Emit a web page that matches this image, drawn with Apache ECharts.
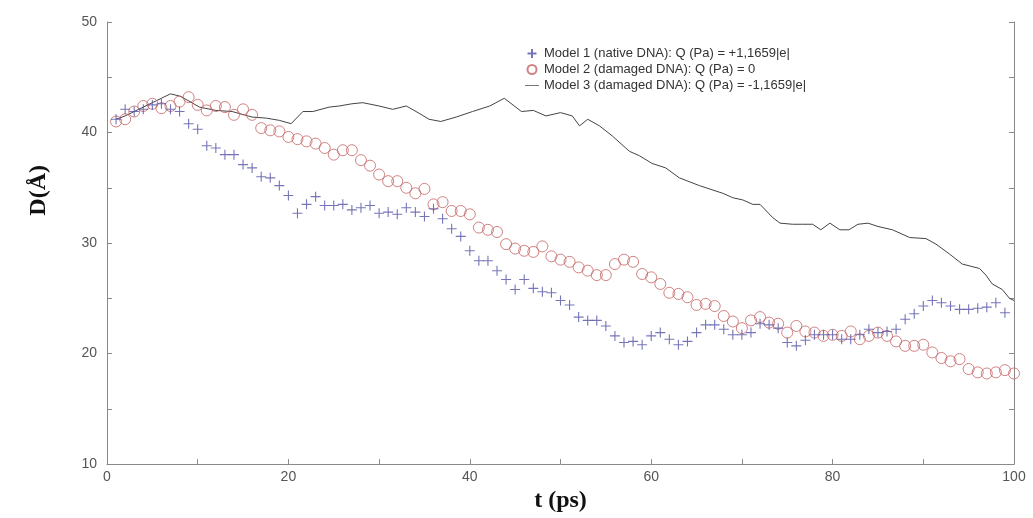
<!DOCTYPE html>
<html><head><meta charset="utf-8">
<script src="https://cdn.jsdelivr.net/npm/echarts@6/dist/echarts.min.js"></script>
<style>html,body{margin:0;padding:0;background:#fff}#c{width:1033px;height:518px}</style>
</head><body><div id="c"></div>
<script>
const xTicks = [0, 20, 40, 60, 80, 100];
const yTicks = [10, 20, 30, 40, 50];
const seriesNames = [
  'Model 1 (native DNA): Q (Pa) = +1,1659|e|',
  'Model 2 (damaged DNA): Q (Pa) = 0',
  'Model 3 (damaged DNA): Q (Pa) = -1,1659|e|'
];
const model1Time = [1,2,3,4,5,6,7,8,9,10,11,12,13,14,15,16,17,18,19,20,21,22,23,24,25,26,27,28,29,30,31,32,33,34,35,36,37,38,39,40,41,42,43,44,45,46,47,48,49,50,51,52,53,54,55,56,57,58,59,60,61,62,63,64,65,66,67,68,69,70,71,72,73,74,75,76,77,78,79,80,81,82,83,84,85,86,87,88,89,90,91,92,93,94,95,96,97,98,99];
const model1D = [41.2,42.1,41.9,42.1,42.5,42.6,42.1,41.9,40.8,40.3,38.8,38.6,38.0,38.0,37.1,36.8,36.0,35.9,35.2,34.3,32.7,33.5,34.2,33.4,33.4,33.5,33.0,33.2,33.4,32.7,32.8,32.6,33.2,32.8,32.4,33.1,32.2,31.3,30.6,29.3,28.4,28.4,27.5,26.7,25.8,26.7,25.9,25.6,25.5,24.8,24.4,23.3,23.0,23.0,22.5,21.6,21.0,21.1,20.8,21.6,21.9,21.3,20.8,21.1,21.9,22.6,22.6,22.2,21.7,21.7,21.9,22.7,22.6,22.3,21.0,20.7,21.2,21.7,21.7,21.7,21.3,21.3,21.7,22.2,21.9,22.0,22.2,23.1,23.6,24.3,24.8,24.6,24.3,24.0,24.0,24.1,24.2,24.6,23.7];
const model2Time = [1,2,3,4,5,6,7,8,9,10,11,12,13,14,15,16,17,18,19,20,21,22,23,24,25,26,27,28,29,30,31,32,33,34,35,36,37,38,39,40,41,42,43,44,45,46,47,48,49,50,51,52,53,54,55,56,57,58,59,60,61,62,63,64,65,66,67,68,69,70,71,72,73,74,75,76,77,78,79,80,81,82,83,84,85,86,87,88,89,90,91,92,93,94,95,96,97,98,99,100];
const model2D = [41.0,41.2,41.9,42.4,42.6,42.2,42.4,42.8,43.2,42.5,42.0,42.4,42.3,41.6,42.1,41.6,40.4,40.2,40.1,39.6,39.4,39.2,39.0,38.6,38.0,38.4,38.4,37.5,37.0,36.2,35.6,35.6,35.0,34.5,34.9,33.5,33.7,32.9,32.9,32.6,31.4,31.2,31.0,29.9,29.5,29.3,29.2,29.7,28.8,28.5,28.3,27.8,27.5,27.1,27.1,28.1,28.5,28.3,27.2,26.9,26.3,25.5,25.4,25.1,24.4,24.5,24.3,23.4,22.9,22.3,23.0,23.3,22.8,22.7,21.9,22.5,22.0,21.9,21.6,21.7,21.6,22.0,21.3,21.6,21.9,21.6,21.1,20.7,20.7,20.8,20.1,19.6,19.3,19.5,18.6,18.3,18.2,18.3,18.5,18.2];
const model3Time = [1,2,3,4,5,6,7,8,8.7,10.2,12,13.8,16,17.6,19,20.3,21.6,22.7,24.5,25.6,27,28.2,30,31.5,33,34.5,35.5,36.8,38.5,40.3,42.2,43.8,45.7,47,48.4,50,51.3,52.1,53,54.3,55.7,57.6,58.7,60.1,61.6,63.1,65.3,67.9,69,70.1,71.2,72,73.4,74.2,75.6,76.7,77.8,78.7,79.7,80.8,81.8,82.8,83.9,85,86.6,88.5,90.3,91.4,92.9,94.3,96.2,96.9,97.6,98.7,99.5,100];
const model3D = [41.2,41.5,41.9,42.3,42.7,43.1,43.5,43.3,43.0,42.3,42.0,41.9,41.4,41.3,41.1,40.8,41.9,41.9,42.3,42.4,42.6,42.7,42.4,42.1,42.4,41.7,41.2,41.0,41.4,41.9,42.4,43.1,41.9,42.0,41.5,41.8,41.5,40.6,41.2,40.6,39.7,38.3,37.9,37.2,36.8,35.9,35.2,34.5,34.1,33.9,33.5,33.5,32.3,31.8,31.7,31.7,31.7,31.2,31.8,31.2,31.2,31.7,31.8,31.5,31.2,30.5,30.4,29.9,29.0,28.1,27.7,27.1,26.3,25.8,25.0,24.8];

const pair = (t, d) => t.map((v, i) => [v, d[i]]);
const plusPath = 'path://M0,5L10,5M5,0L5,10';
const dashPath = 'path://M0,4L14,4L14,5L0,5Z';
const axisGray = '#8a8a8a';
const blue = '#5252a6', red = '#c46464', gray = '#444';
const labelStyle = {color: '#555', fontSize: 14, fontFamily: 'Liberation Sans, Arial, sans-serif'};
const titleFont = 'Liberation Serif, Times New Roman, serif';

const chart = echarts.init(document.getElementById('c'), null, {renderer: 'canvas'});
chart.setOption({
  backgroundColor: '#fff',
  animation: false,
  grid: {left: 107, right: 19, top: 22, bottom: 49, containLabel: false},
  legend: {
    orient: 'vertical', left: 520, top: 42, itemGap: 3, itemWidth: 14, itemHeight: 9,
    textStyle: {color: '#333', fontSize: 13, fontFamily: 'Liberation Sans, Arial, sans-serif'},
    data: [
      {name: seriesNames[0], icon: plusPath},
      {name: seriesNames[1], icon: 'circle'},
      {name: seriesNames[2], icon: dashPath}
    ]
  },
  xAxis: {
    type: 'value', min: 0, max: 100, interval: 10,
    name: 't (ps)', nameLocation: 'middle', nameGap: 24,
    nameTextStyle: {fontFamily: titleFont, fontWeight: 'bold', fontSize: 24, color: '#111'},
    axisLine: {lineStyle: {color: axisGray}},
    axisTick: {inside: true, length: 5, lineStyle: {color: axisGray}},
    axisLabel: Object.assign({margin: 6, formatter: v => xTicks.includes(v) ? String(v) : ''}, labelStyle),
    splitLine: {show: false}
  },
  yAxis: [{
    type: 'value', min: 10, max: 50, interval: 5, position: 'left',
    axisLine: {show: true, lineStyle: {color: axisGray}},
    axisTick: {show: true, inside: true, length: 5, lineStyle: {color: axisGray}},
    axisLabel: Object.assign({margin: 10, formatter: v => yTicks.includes(v) ? String(v) : ''}, labelStyle),
    splitLine: {show: false}
  }, {
    type: 'value', min: 10, max: 50, interval: 5, position: 'right',
    axisLine: {show: true, lineStyle: {color: axisGray}},
    axisTick: {show: true, inside: true, length: 5, lineStyle: {color: axisGray}},
    axisLabel: {show: false},
    splitLine: {show: false}
  }],
  graphic: [{
    type: 'text', left: 27, top: 165,
    rotation: Math.PI / 2,
    style: {text: 'D(Å)', font: 'bold 24px "Liberation Serif", "Times New Roman", serif', fill: '#111'}
  }],
  series: [{
    name: seriesNames[2], type: 'line', data: pair(model3Time, model3D),
    symbol: 'none', lineStyle: {color: gray, width: 1},
    itemStyle: {color: '#777'}, z: 1
  }, {
    name: seriesNames[1], type: 'scatter', data: pair(model2Time, model2D),
    symbol: 'circle', symbolSize: 11,
    itemStyle: {color: 'transparent', borderColor: red, borderWidth: 1}, z: 2
  }, {
    name: seriesNames[0], type: 'scatter', data: pair(model1Time, model1D),
    symbol: plusPath, symbolSize: 10,
    itemStyle: {color: 'transparent', borderColor: blue, borderWidth: 1.1}, z: 3
  }]
});
</script></body></html>
